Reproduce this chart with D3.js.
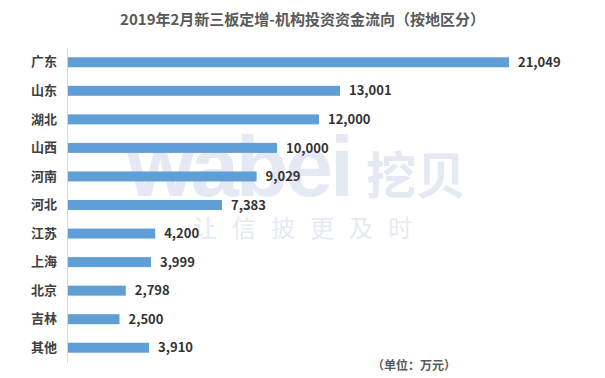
<!DOCTYPE html>
<html>
<head>
<meta charset="utf-8">
<script src="https://cdn.jsdelivr.net/npm/d3@7"></script>
<style>
  body { margin: 0; background: #fff; }
  svg { font-family: "Noto Sans CJK SC", "Microsoft YaHei", sans-serif; }
</style>
</head>
<body>
<div id="chart"></div>
<script>
// Regions and amounts (万元)
const regions = ["广东", "山东", "湖北", "山西", "河南", "河北", "江苏", "上海", "北京", "吉林", "其他"];
const amounts = [21049, 13001, 12000, 10000, 9029, 7383, 4200, 3999, 2798, 2500, 3910];

const data = regions.map((r, i) => ({ region: r, value: amounts[i] }));

const W = 605, H = 378;
const margin = { top: 48, right: 96, bottom: 16, left: 67 };

const svg = d3.select("#chart")
    .append("svg")
    .attr("width", W)
    .attr("height", H);

// Watermark sits behind the bars
const wm = svg.append("g").attr("opacity", 0.12).attr("fill", "#2f4f9f");
wm.append("text")
    .attr("x", 127)
    .attr("y", 196)
    .attr("font-size", 86)
    .attr("font-weight", "bold")
    .attr("font-family", "Arial, Liberation Sans, sans-serif")
    .attr("letter-spacing", -3)
    .text("wabei");
wm.append("text")
    .attr("x", 366)
    .attr("y", 194)
    .attr("font-size", 50)
    .attr("font-weight", "bold")
    .text("挖贝");
wm.append("text")
    .attr("x", 193)
    .attr("y", 237)
    .attr("font-size", 24)
    .attr("letter-spacing", 15)
    .text("让信披更及时");

const g = svg.append("g")
    .attr("transform", `translate(${margin.left},${margin.top})`);

// Scales
const x = d3.scaleLinear()
    .domain([0, 21049])
    .range([0, 442]);

const y = d3.scaleBand()
    .domain(regions)
    .range([0, 314])
    .paddingInner(0.65)
    .paddingOuter(0.325);

// Bars
g.selectAll(".bar")
    .data(data)
    .enter()
    .append("rect")
    .attr("class", "bar")
    .attr("x", 0)
    .attr("y", d => y(d.region))
    .attr("width", d => x(d.value))
    .attr("height", y.bandwidth())
    .attr("fill", "#5b9bd5")
    .attr("opacity", 0.97);

// Value labels
g.selectAll(".val")
    .data(data)
    .enter()
    .append("text")
    .attr("x", d => x(d.value) + 9)
    .attr("y", d => y(d.region) + y.bandwidth() / 2)
    .attr("dy", "0.36em")
    .attr("font-size", 13)
    .attr("font-weight", "bold")
    .attr("fill", "#333")
    .text(d => d3.format(",")(d.value));

// Category axis
const yAxis = g.append("g")
    .call(d3.axisLeft(y).tickSize(0).tickPadding(10));
yAxis.select(".domain").attr("stroke", "#d9d9d9");
yAxis.selectAll("text")
    .attr("font-size", 13)
    .attr("font-weight", "bold")
    .attr("fill", "#404040")
    .style("font-family", "\"Noto Sans CJK SC\", sans-serif");

// Title
svg.append("text")
    .attr("x", W / 2)
    .attr("y", 25)
    .attr("text-anchor", "middle")
    .attr("font-size", 15)
    .attr("font-weight", "bold")
    .attr("fill", "#595959")
    .text("2019年2月新三板定增-机构投资资金流向（按地区分）");

// Unit note
svg.append("text")
    .attr("x", 372)
    .attr("y", 370)
    .attr("font-size", 12)
    .attr("font-weight", "bold")
    .attr("fill", "#595959")
    .text("（单位：万元）");
</script>
</body>
</html>
